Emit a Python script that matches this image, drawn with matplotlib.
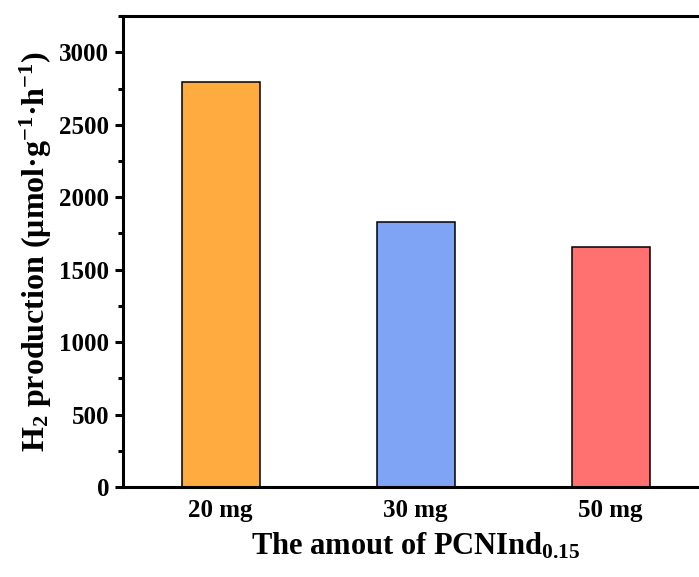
import matplotlib
matplotlib.use('Agg')
import matplotlib.pyplot as plt
from matplotlib.ticker import MultipleLocator

# catalyst loading vs. H2 evolution rate
amounts = ['20 mg', '30 mg', '50 mg']
h2_rate = [2793, 1828, 1656]
bar_colors = ['#FFAB40', '#80A4F5', '#FF7070']

plt.rcParams['font.family'] = 'Liberation Serif'
plt.rcParams['font.weight'] = 'bold'
plt.rcParams['axes.labelweight'] = 'bold'
plt.rcParams['mathtext.fontset'] = 'custom'
plt.rcParams['mathtext.rm'] = 'Liberation Serif:bold'
plt.rcParams['mathtext.bf'] = 'Liberation Serif:bold'
plt.rcParams['mathtext.it'] = 'Liberation Serif:bold:italic'
plt.rcParams['mathtext.default'] = 'rm'

fig = plt.figure(figsize=(6.99, 5.77), dpi=100)
ax = fig.add_axes([0.176, 0.156, 0.837, 0.816])

x = list(range(1, len(amounts) + 1))
ax.bar(x, h2_rate, width=0.4, color=bar_colors, edgecolor='black', linewidth=1.1)

ax.set_xlim(0.5, 3.5)
ax.set_ylim(0, 3250)
ax.set_xticks(x)
ax.set_xticklabels(amounts)
ax.yaxis.set_major_locator(MultipleLocator(500))
ax.yaxis.set_minor_locator(MultipleLocator(250))

for sp in ax.spines.values():
    sp.set_linewidth(2.2)
ax.tick_params(axis='x', length=0, pad=9, labelsize=18)
ax.tick_params(axis='y', which='major', length=6, width=2.2, pad=4, labelsize=18)
ax.tick_params(axis='y', which='minor', length=3.5, width=2.2)

ax.set_xlabel('The amout of PCNInd$_{0.15}$', fontsize=22, fontweight='bold', labelpad=6)
ax.set_ylabel('H$_2$ production (μmol·g$^{-1}$·h$^{-1}$)', fontsize=23,
              fontweight='bold', labelpad=4)

fig.savefig('out.png', dpi=100)
